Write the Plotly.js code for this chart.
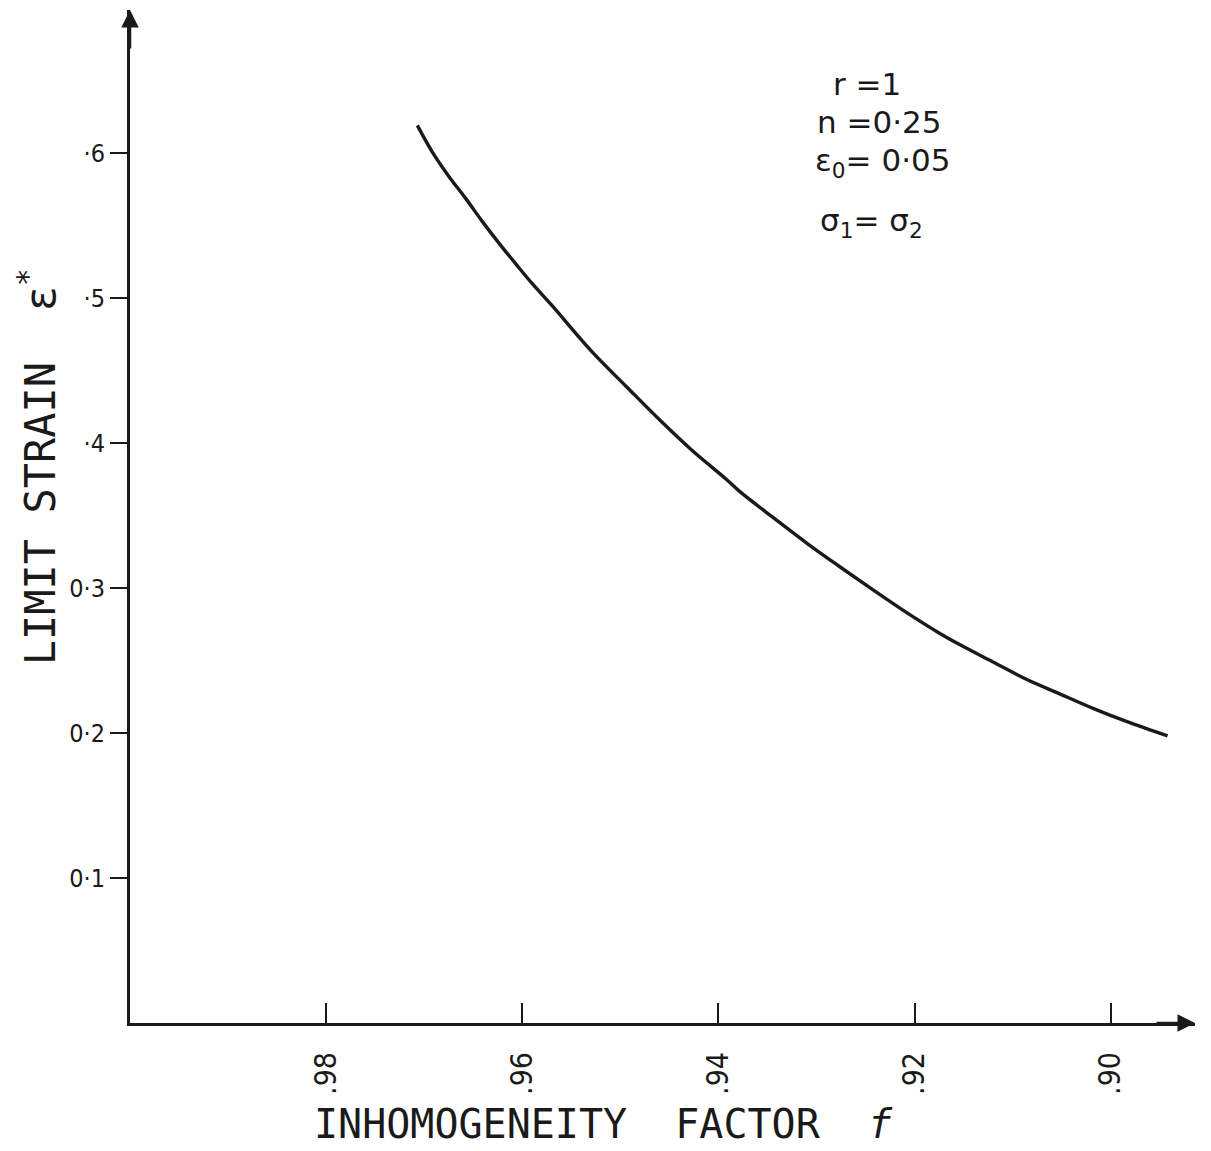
<!DOCTYPE html>
<html>
<head>
<meta charset="utf-8">
<script src="https://cdn.plot.ly/plotly-3.0.1.min.js"></script>
<style>
  html, body { margin: 0; padding: 0; background: #ffffff; }
  #chart { width: 1211px; height: 1151px; }
</style>
</head>
<body>
<div id="chart"></div>
<script>
// Inhomogeneity factor f (x) and limit strain eps* (y)
const fValues = [0.9707, 0.9692, 0.9675, 0.9657, 0.9641, 0.9624, 0.9606, 0.9590, 0.9570,
                 0.9529, 0.9494, 0.9460, 0.9427, 0.9392, 0.9379, 0.9345, 0.9310, 0.9277,
                 0.9243, 0.9208, 0.9175, 0.9154, 0.9120, 0.9086, 0.9052, 0.9018, 0.8984, 0.8942];
const strainValues = [0.619, 0.601, 0.584, 0.568, 0.553, 0.538, 0.523, 0.510, 0.495,
                      0.463, 0.439, 0.416, 0.395, 0.375, 0.367, 0.349, 0.331, 0.315,
                      0.299, 0.283, 0.269, 0.261, 0.249, 0.237, 0.227, 0.217, 0.208, 0.198];

const xTickVals = [0.98, 0.96, 0.94, 0.92, 0.90];
const xTickText = ['.98', '.96', '.94', '.92', '.90'];
const yTickVals = [0.1, 0.2, 0.3, 0.4, 0.5, 0.6];
const yTickText = ['0·1', '0·2', '0·3', '·4', '·5', '·6'];

const xTitle = 'INHOMOGENEITY  FACTOR  <i>f</i>';
const yTitle = 'LIMIT STRAIN  ε<sup>*</sup>';
const paramLines = ['r =1', 'n =0·25', 'ε<sub>0</sub>= 0·05', 'σ<sub>1</sub>= σ<sub>2</sub>'];

const ink = '#1a1a1a';
const fontLetter = '"DejaVu Sans Mono", monospace';
const fontSans = '"DejaVu Sans", sans-serif';
const fontCond = '"DejaVu Sans Condensed", "DejaVu Sans", sans-serif';

const trace = {
  x: fValues,
  y: strainValues,
  type: 'scatter',
  mode: 'lines',
  line: { color: ink, width: 3.4, shape: 'spline', smoothing: 1 },
  hoverinfo: 'x+y',
  showlegend: false
};

// parameter box: one annotation per line, positioned in paper coords
const paramPos = [
  { x: 0.658, y: 0.927 },
  { x: 0.643, y: 0.889 },
  { x: 0.641, y: 0.849 },
  { x: 0.646, y: 0.790 }
];
const paramAnnotations = paramLines.map((t, i) => ({
  xref: 'paper', yref: 'paper', x: paramPos[i].x, y: paramPos[i].y,
  xanchor: 'left', yanchor: 'middle', align: 'left',
  text: t, showarrow: false,
  font: { family: fontSans, size: 31, color: ink }
}));

const layout = {
  width: 1211,
  height: 1151,
  paper_bgcolor: '#ffffff',
  plot_bgcolor: '#ffffff',
  margin: { l: 130, r: 16, t: 10, b: 128 },
  showlegend: false,
  xaxis: {
    range: [1.0, 0.8914],
    autorange: false,
    showgrid: false,
    zeroline: false,
    showline: true,
    linecolor: ink,
    linewidth: 3,
    ticks: 'inside',
    ticklen: 20,
    tickwidth: 2,
    tickcolor: ink,
    tickmode: 'array',
    tickvals: xTickVals,
    ticktext: xTickText,
    tickangle: -90,
    ticklabelstandoff: 14,
    tickfont: { family: fontCond, size: 30, color: ink }
  },
  yaxis: {
    range: [0, 0.6986],
    autorange: false,
    showgrid: false,
    zeroline: false,
    showline: true,
    linecolor: ink,
    linewidth: 3,
    ticks: 'outside',
    ticklen: 17,
    tickwidth: 2,
    tickcolor: ink,
    tickmode: 'array',
    tickvals: yTickVals,
    ticktext: yTickText,
    ticklabelstandoff: 0,
    tickfont: { family: fontCond, size: 25, color: ink }
  },
  annotations: [
    {
      xref: 'paper', yref: 'paper', x: 0.445, y: -0.1,
      xanchor: 'center', yanchor: 'middle',
      text: xTitle, showarrow: false,
      font: { family: fontLetter, size: 40, color: ink }
    },
    {
      xref: 'paper', yref: 'paper', x: -0.086, y: 0.549,
      xanchor: 'center', yanchor: 'middle', textangle: -90,
      text: yTitle, showarrow: false,
      font: { family: fontLetter, size: 42, color: ink }
    },
    ...paramAnnotations,
    {
      xref: 'paper', yref: 'paper', x: 0, y: 1.0,
      axref: 'pixel', ayref: 'pixel', ax: 0, ay: 40,
      text: '', showarrow: true, arrowhead: 2, arrowsize: 1.4, arrowwidth: 2.5,
      arrowcolor: ink
    },
    {
      xref: 'paper', yref: 'paper', x: 1.0, y: 0,
      axref: 'pixel', ayref: 'pixel', ax: -40, ay: 0,
      text: '', showarrow: true, arrowhead: 2, arrowsize: 1.4, arrowwidth: 2.5,
      arrowcolor: ink
    }
  ]
};

Plotly.newPlot('chart', [trace], layout, { displayModeBar: false, staticPlot: true });
</script>
</body>
</html>
